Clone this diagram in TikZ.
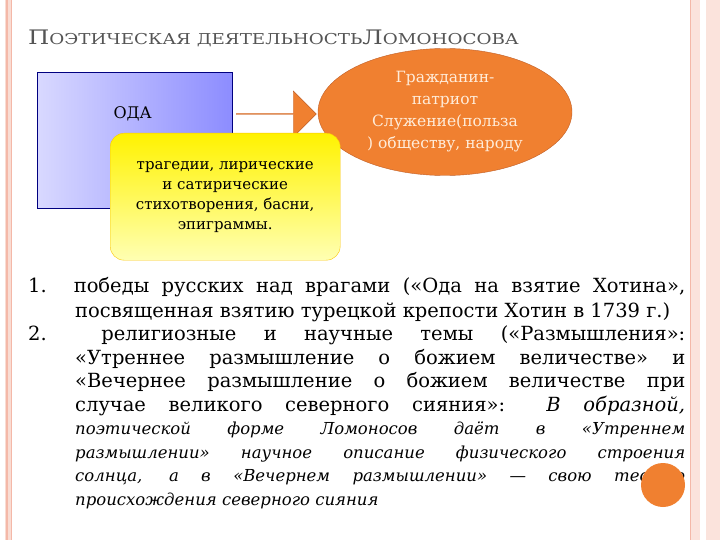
\documentclass[tikz,border=0pt]{standalone}
\usepackage{fontspec}
\setmainfont{DejaVu Serif}
\usetikzlibrary{shapes.arrows,shapes.geometric}
\definecolor{pinkb}{HTML}{F4B8A8}
\definecolor{orng}{HTML}{F08030}
\definecolor{orngd}{HTML}{C0602A}
\definecolor{titleg}{HTML}{555555}
\tikzset{
  oda/.style={draw=blue!50!black, left color=blue!15, right color=blue!45, minimum width=195pt, minimum height=136pt, anchor=north west, inner sep=0pt},
  genre/.style={draw=yellow!60!orange, rounded corners=14pt, top color=yellow!90!orange, bottom color=yellow!30, minimum width=230pt, minimum height=127pt, anchor=north west, align=center, font=\fontsize{15}{20}\selectfont},
  goal/.style={ellipse, draw=orngd, fill=orng, text=white!85!orange, minimum width=254pt, minimum height=127pt, inner sep=0pt, align=center, font=\fontsize{15.5}{22}\selectfont},
  bigarrow/.style={single arrow, draw=orngd, fill=orng, minimum height=80pt, minimum width=46pt, single arrow head extend=9pt, inner sep=0pt}
}
\begin{document}
\begin{tikzpicture}[x=1pt,y=-1pt]
\useasboundingbox (0,0) rectangle (720,540);
\fill[white] (0,0) rectangle (720,540);
% borders
\fill[pinkb!50] (5,0) rectangle (12,540);
\draw[pinkb,line width=1.2pt] (7,0) -- (7,540);
\draw[pinkb,line width=0.6pt] (11,0) -- (11,540);
\fill[pinkb!40] (690,0) rectangle (720,540);
\fill[white] (700,0) rectangle (706,540);
\draw[pinkb,line width=1pt] (690,0) -- (690,540);
% title
\node[anchor=base west, text=titleg, inner sep=0pt] (title) at (28,45) {\scalebox{1.22}[1]{\fontsize{20}{22}\selectfont П\fontsize{15}{22}\selectfont ОЭТИЧЕСКАЯ ДЕЯТЕЛЬНОСТЬ\fontsize{20}{22}\selectfont Л\fontsize{15}{22}\selectfont ОМОНОСОВА}};
% diagram
\node[oda] (oda) at (37,72) {};
\node[anchor=west, font=\fontsize{16}{18}\selectfont] (odat) at (110,114) {ОДА};
\node[bigarrow] (arr) at (276,114) {};
\node[goal] (goal) at (445,112) {Гражданин-\\патриот\\Служение(польза\\) обществу, народу};
\node[genre] (genre) at (110,133) {трагедии, лирические\\и сатирические\\стихотворения, басни,\\эпиграммы.};
% text
\node[anchor=north west, inner sep=0pt, text width=657pt, align=justify, font=\fontsize{19.5}{25}\selectfont] (body) at (28,277) {%
\hangindent=47pt\hangafter=1\noindent 1. победы русских над врагами («Ода на взятие Хотина»,\linebreak посвященная взятию турецкой крепости Хотин в 1739 г.)\par
\hangindent=47pt\hangafter=1\noindent 2.\ \ религиозные и научные темы («Размышления»:\linebreak «Утреннее размышление о божием величестве» и\linebreak «Вечернее размышление о божием величестве при\linebreak случае великого северного сияния»: {\itshape В образной,\linebreak{\fontsize{16.5}{23.5}\selectfont поэтической форме Ломоносов даёт в «Утреннем\linebreak размышлении» научное описание физического строения\linebreak солнца, а в «Вечернем размышлении» — свою теорию\linebreak происхождения северного сияния\par}}};
\fill[orng] (663,485) circle (22);
\end{tikzpicture}
\end{document}
